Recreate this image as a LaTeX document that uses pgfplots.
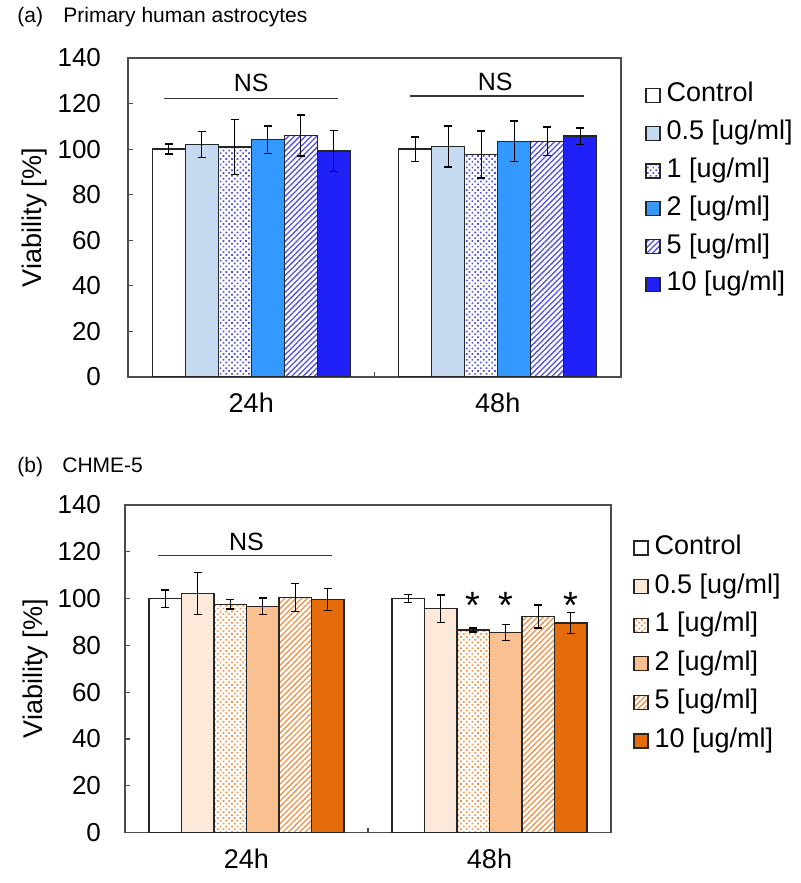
\documentclass[border=0pt]{standalone}
\usepackage{fontspec}
\setmainfont{Liberation Sans}
\usepackage{pgfplots}
\pgfplotsset{compat=1.18}
\usetikzlibrary{patterns.meta}

\definecolor{bA}{RGB}{197,217,241}
\definecolor{bB}{RGB}{51,153,255}
\definecolor{bC}{RGB}{32,32,248}
\definecolor{bP}{RGB}{80,80,228}
\definecolor{oA}{RGB}{253,233,217}
\definecolor{oB}{RGB}{250,192,144}
\definecolor{oC}{RGB}{228,108,10}
\definecolor{oP}{RGB}{243,145,72}

\pgfplotsset{
  viab/.style={
    scale only axis,
    ybar=0pt,
    ymin=0, ymax=140,
    ytick={0,20,...,140},
    xmin=-0.5, xmax=1.5,
    xtick={0,1},
    xticklabels={24h,48h},
    major x tick style={draw=none},
    ytick pos=left,
    tick align=inside,
    major tick length=2.5pt,
    tick style={black!70, line width=0.6pt},
    axis line style={black!70, line width=0.75pt},
    /pgf/number format/assume math mode=true,
    yticklabel style={font=\fontsize{13}{15}\selectfont, anchor=east},
    xticklabel style={font=\fontsize{13.5}{16}\selectfont, yshift=-4.5pt},
    ylabel={Viability [\%]},
    ylabel style={font=\fontsize{13.5}{16}\selectfont, anchor=center},
    legend cell align=left,
    legend image code/.code={\draw[##1, line width=0.6pt] (0pt,-3.5pt) rectangle (7pt,3.5pt);},
    legend style={draw=none, fill=none, anchor=north west,
      font=\fontsize{13.5}{16}\selectfont, column sep=3pt,
      nodes={inner sep=0pt, text height=9.5pt, text depth=3pt}},
    every axis plot/.append style={draw=black!85, line width=0.7pt},
    error bars/y dir=both,
    error bars/y explicit,
    error bars/error bar style={black, line width=0.7pt},
    error bars/error mark options={black, line width=0.7pt, mark size=2pt, rotate=90},
  },
  dotfill/.style={fill=white, postaction={pattern={Dots[distance=2pt, radius=0.6pt, angle=45]}, pattern color=#1}},
  hatchfill/.style={fill=white, postaction={pattern={Lines[angle=45, distance=2pt, line width=0.65pt]}, pattern color=#1}},
}

\begin{document}
\begin{tikzpicture}
\useasboundingbox (0,0) rectangle (400pt,441.5pt);

\node[anchor=base west, inner sep=0pt, font=\fontsize{10.5}{12}\selectfont] at (8.5pt,430.2pt) {(a)};
\node[anchor=base west, inner sep=0pt, font=\fontsize{10.5}{12}\selectfont] at (31.5pt,430.2pt) {Primary human astrocytes};
\node[anchor=base west, inner sep=0pt, font=\fontsize{10.5}{12}\selectfont] at (8.5pt,205.35pt) {(b)};
\node[anchor=base west, inner sep=0pt, font=\fontsize{10.5}{12}\selectfont] at (31pt,205.35pt) {CHME-5};

% (a) primary human astrocytes
\begin{axis}[viab,
  at={(64pt,253pt)}, anchor=south west,
  width=246.5pt, height=159.5pt,
  bar width=16.5pt,
  yticklabel style={xshift=-10pt},
  ylabel style={at={(axis description cs:-0.189,0.5)}},
  legend style={at={(1.0365,0.936)}, row sep=6.4pt},
]
\addplot[fill=white] coordinates {(0,100.0) +- (0,2.2) (1,100.0) +- (0,5.3)};
\addplot[fill=bA] coordinates {(0,102.1) +- (0,5.7) (1,101.2) +- (0,9.0)};
\addplot[dotfill=bP] coordinates {(0,100.9) +- (0,12.0) (1,97.6) +- (0,10.3)};
\addplot[fill=bB] coordinates {(0,104.1) +- (0,6.0) (1,103.4) +- (0,8.9)};
\addplot[hatchfill=bP] coordinates {(0,106.0) +- (0,9.0) (1,103.4) +- (0,6.3)};
\addplot[fill=bC] coordinates {(0,99.2) +- (0,9.0) (1,105.7) +- (0,3.6)};
\legend{Control,0.5 [ug/ml],1 [ug/ml],2 [ug/ml],5 [ug/ml],10 [ug/ml]}
\draw[black!70, line width=0.6pt] (axis cs:0.5,0) -- (axis cs:0.5,2.2);
\draw[black!80, line width=0.75pt] (axis cs:-0.355,122.3) -- (axis cs:0.35,122.3);
\draw[black!80, line width=0.75pt] (axis cs:0.645,123.4) -- (axis cs:1.35,123.4);
\node[font=\fontsize{12.5}{15}\selectfont] at (axis cs:0,129) {NS};
\node[font=\fontsize{12.5}{15}\selectfont] at (axis cs:0.99,129.5) {NS};
\end{axis}

% (b) CHME-5
\begin{axis}[viab,
  at={(62.5pt,25.15pt)}, anchor=south west,
  width=243pt, height=163.9pt,
  bar width=16.25pt,
  yticklabel style={xshift=-8.5pt},
  ylabel style={at={(axis description cs:-0.185,0.5)}},
  legend style={at={(1.033,0.92)}, row sep=6.8pt},
]
\addplot[fill=white] coordinates {(0,100.0) +- (0,3.7) (1,100.0) +- (0,1.7)};
\addplot[fill=oA] coordinates {(0,102.1) +- (0,9.0) (1,95.7) +- (0,5.9)};
\addplot[dotfill=oP] coordinates {(0,97.5) +- (0,2.0) (1,86.6) +- (0,0.8)};
\addplot[fill=oB] coordinates {(0,96.7) +- (0,3.5) (1,85.5) +- (0,3.3)};
\addplot[hatchfill=oP] coordinates {(0,100.4) +- (0,6.0) (1,92.4) +- (0,4.9)};
\addplot[fill=oC] coordinates {(0,99.5) +- (0,4.7) (1,89.6) +- (0,4.5)};
\legend{Control,0.5 [ug/ml],1 [ug/ml],2 [ug/ml],5 [ug/ml],10 [ug/ml]}
\draw[black!70, line width=0.6pt] (axis cs:0.5,0) -- (axis cs:0.5,2.1);
\draw[black!80, line width=0.75pt] (axis cs:-0.364,118.3) -- (axis cs:0.352,118.3);
\node[font=\fontsize{12.5}{15}\selectfont] at (axis cs:0,124) {NS};
\node[anchor=north, inner sep=0pt, font=\fontsize{19}{20}\selectfont] at (axis cs:0.9332,102.7) {*};
\node[anchor=north, inner sep=0pt, font=\fontsize{19}{20}\selectfont] at (axis cs:1.0669,102.7) {*};
\node[anchor=north, inner sep=0pt, font=\fontsize{19}{20}\selectfont] at (axis cs:1.3343,102.7) {*};
\end{axis}
\end{tikzpicture}
\end{document}
